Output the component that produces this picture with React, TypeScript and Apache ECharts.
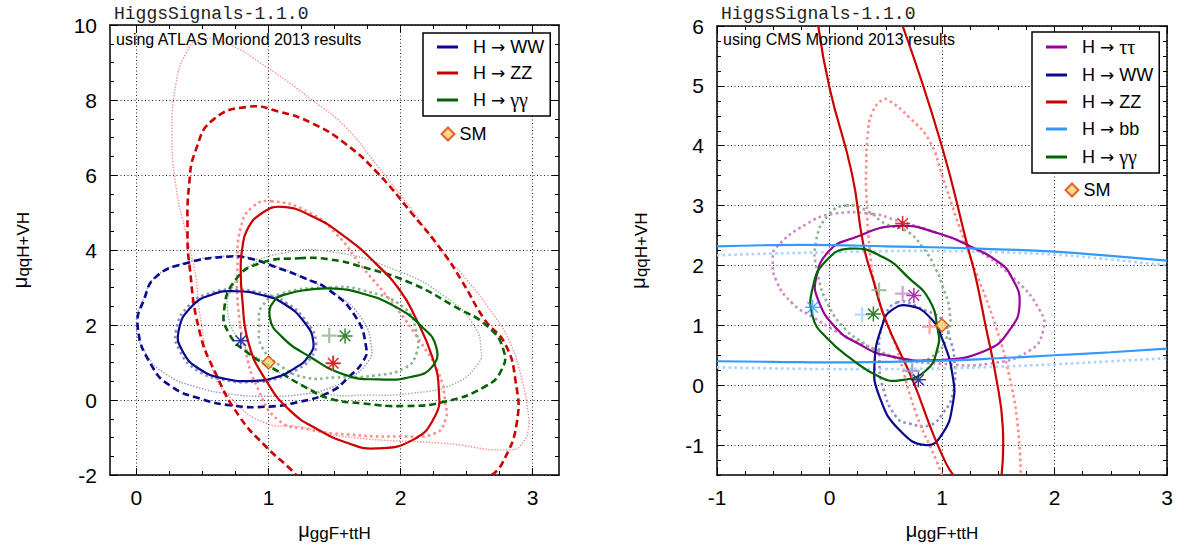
import React, { useEffect, useRef } from 'react';
import * as echarts from 'echarts';

type Pt = [number, number];

const FONT = "'Liberation Sans', Arial, Helvetica, sans-serif";
const MONO = "'Liberation Mono', 'Courier New', monospace";

// ---------------- axes / ticks ----------------
const atlasXRange: Pt = [-0.2, 3.2];
const atlasYRange: Pt = [-2, 10];
const atlasXTicks = [0, 1, 2, 3];
const atlasYTicks = [-2, 0, 2, 4, 6, 8, 10];

const cmsXRange: Pt = [-1, 3];
const cmsYRange: Pt = [-1.5, 6];
const cmsXTicks = [-1, 0, 1, 2, 3];
const cmsYTicks = [-1, 0, 1, 2, 3, 4, 5, 6];

const legendAtlas = ['H → WW', 'H → ZZ', 'H → γγ'];
const legendCms = ['H → ττ', 'H → WW', 'H → ZZ', 'H → bb', 'H → γγ'];

// ---------------- ATLAS contours (left) ----------------
const atlasWW1: Pt[] = [[0.75,2.9],[0.95,2.8],[1.12,2.56],[1.27,2.08],[1.34,1.55],[1.3,1.15],[1.2,0.85],[1.05,0.6],[0.88,0.51],[0.68,0.56],[0.48,0.82],[0.35,1.3],[0.32,1.85],[0.42,2.5],[0.58,2.82],[0.75,2.9]];
const atlasWW1Exp: Pt[] = [[0.75,2.94],[0.96,2.84],[1.14,2.58],[1.29,2.08],[1.36,1.55],[1.32,1.12],[1.22,0.82],[1.06,0.57],[0.88,0.48],[0.67,0.53],[0.46,0.79],[0.33,1.3],[0.30,1.85],[0.40,2.53],[0.57,2.86],[0.75,2.94]];
const atlasWW2: Pt[] = [[0.68,3.82],[0.85,3.78],[1.05,3.55],[1.28,3.24],[1.46,2.93],[1.66,2.22],[1.74,1.4],[1.72,1.05],[1.61,0.62],[1.47,0.22],[1.22,-0.06],[0.98,-0.18],[0.73,-0.15],[0.48,0.04],[0.27,0.35],[0.12,0.89],[0.01,1.95],[0.06,2.7],[0.15,3.29],[0.37,3.64],[0.68,3.82]];
const atlasWW2Exp: Pt[] = [[0.68,3.84],[0.85,3.8],[1.05,3.58],[1.3,3.2],[1.5,2.85],[1.7,2.2],[1.78,1.4],[1.75,1.0],[1.62,0.6],[1.45,0.3],[1.25,0.15],[1.0,0.1],[0.73,0.15],[0.45,0.35],[0.22,0.7],[0.08,1.2],[0.0,1.95],[0.06,2.75],[0.15,3.3],[0.37,3.66],[0.68,3.84]];

const atlasZZ1: Pt[] = [[1.1,5.15],[1.33,4.9],[1.58,4.35],[1.81,3.65],[2.0,2.9],[2.11,2.22],[2.24,1.15],[2.29,0.27],[2.26,-0.44],[2.09,-1.07],[1.81,-1.29],[1.61,-1.16],[1.38,-0.8],[1.16,-0.27],[0.98,0.53],[0.85,1.51],[0.8,2.75],[0.79,3.5],[0.8,4.0],[0.84,4.55],[0.95,4.98],[1.1,5.15]];
const atlasZZ1Exp: Pt[] = [[1.02,5.3],[1.3,5.02],[1.51,4.44],[1.71,3.55],[1.96,2.49],[2.14,1.6],[2.29,0.71],[2.34,-0.09],[2.34,-0.53],[2.26,-0.89],[2.0,-0.97],[1.6,-0.92],[1.3,-0.78],[1.08,-0.55],[0.92,0.3],[0.82,1.4],[0.77,2.5],[0.765,3.5],[0.79,4.6],[0.88,5.15],[1.02,5.3]];
const atlasZZ2: Pt[] = [[2.69,-2.0],[2.77,-1.69],[2.88,-0.62],[2.87,0.53],[2.79,1.51],[2.64,2.13],[2.46,3.2],[2.31,4.0],[2.085,4.98],[1.83,6.04],[1.58,6.84],[1.33,7.38],[1.08,7.69],[0.85,7.82],[0.58,7.47],[0.45,6.67],[0.4,5.78],[0.387,4.44],[0.4,3.64],[0.475,1.87],[0.6,0.71],[0.78,-0.44],[0.98,-1.24],[1.16,-1.82],[1.21,-2.0]];
const atlasZZ2Exp: Pt[] = [[0.68,9.51],[0.98,8.89],[1.33,8.0],[1.58,7.29],[1.83,6.22],[2.085,5.07],[2.34,3.82],[2.46,3.38],[2.66,2.49],[2.82,1.6],[2.92,0.53],[2.97,-0.44],[2.97,-0.71],[2.94,-1.07],[2.84,-1.33],[2.34,-1.16],[1.58,-0.98],[1.23,-0.71],[0.98,-0.62],[0.73,0.0],[0.575,0.8],[0.475,2.4],[0.45,3.29],[0.375,4.44],[0.3,5.69],[0.27,7.11],[0.3,8.44],[0.375,9.24],[0.475,9.6],[0.68,9.51]];

const atlasGG1: Pt[] = [[1.5,2.97],[1.71,2.84],[1.96,2.49],[2.16,1.96],[2.27,1.42],[2.24,0.89],[2.085,0.62],[1.83,0.55],[1.58,0.67],[1.31,1.16],[1.1,1.69],[1.01,2.2],[1.05,2.67],[1.155,2.84],[1.28,2.93],[1.5,2.97]];
const atlasGG1Exp: Pt[] = [[1.46,3.0],[1.71,2.93],[2.03,2.45],[2.12,1.8],[2.12,1.24],[2.03,0.85],[1.8,0.65],[1.5,0.6],[1.28,0.6],[1.1,0.89],[0.95,1.42],[0.93,2.0],[0.95,2.49],[1.1,2.84],[1.46,3.0]];
const atlasGG2: Pt[] = [[1.23,3.78],[1.46,3.75],[1.71,3.55],[2.085,3.11],[2.41,2.49],[2.66,1.96],[2.78,1.33],[2.765,0.8],[2.64,0.36],[2.34,-0.04],[2.035,-0.16],[1.71,-0.09],[1.46,0.04],[1.3,0.3],[1.1,0.71],[0.85,1.24],[0.7,1.78],[0.664,2.4],[0.75,3.2],[0.93,3.64],[1.23,3.78]];
const atlasGG2Exp: Pt[] = [[1.1,3.91],[1.46,3.96],[1.96,3.47],[2.34,2.75],[2.56,1.96],[2.61,1.33],[2.59,0.98],[2.41,0.44],[2.085,0.18],[1.71,0.13],[1.46,0.15],[1.28,0.36],[0.98,0.98],[0.78,1.6],[0.69,2.4],[0.73,3.02],[0.85,3.55],[1.1,3.91]];

const atlasBestWW: Pt = [0.79, 1.58];
const atlasBestZZ: Pt = [1.49, 0.98];
const atlasBestGG: Pt = [1.58, 1.71];
const atlasExpZZ: Pt = [1.49, 0.98];
const atlasExpGG: Pt = [1.46, 1.72];
const smPoint: Pt = [1, 1];

// ---------------- CMS contours (right) ----------------
const cmsTT1: Pt[] = [[0.6,2.66],[0.98,2.53],[1.27,2.3],[1.5,2.06],[1.62,1.8],[1.69,1.36],[1.6,0.92],[1.39,0.58],[0.95,0.42],[0.5,0.5],[0.25,0.7],[0.06,0.95],[-0.1,1.42],[-0.118,1.8],[0.0,2.25],[0.2,2.45],[0.6,2.66]];
const cmsTT1Exp: Pt[] = [[0.385,2.86],[0.6,2.75],[0.978,2.53],[1.27,2.3],[1.63,1.8],[1.87,1.25],[1.9,0.92],[1.78,0.58],[1.42,0.36],[0.978,0.36],[0.652,0.44],[0.356,0.64],[0.06,0.9],[-0.148,1.14],[-0.326,1.36],[-0.474,1.75],[-0.504,2.1],[-0.474,2.3],[-0.207,2.69],[0.03,2.86],[0.385,2.86]];
const cmsWW1: Pt[] = [[0.7,1.33],[0.889,1.14],[1.007,0.75],[1.096,0.14],[1.096,-0.31],[1.007,-0.8],[0.86,-1.0],[0.622,-0.75],[0.444,-0.19],[0.4,0.36],[0.474,1.03],[0.55,1.25],[0.7,1.33]];
const cmsWW1Exp: Pt[] = [[0.6,1.38],[0.85,1.25],[1.007,1.08],[1.067,0.8],[1.11,0.42],[1.096,-0.14],[1.007,-0.47],[0.889,-0.67],[0.711,-0.64],[0.593,-0.53],[0.474,-0.03],[0.444,0.42],[0.47,1.0],[0.6,1.38]];
const cmsZZ1Left: Pt[] = [[-0.1,6.0],[0.0,4.97],[0.2,3.53],[0.3,2.36],[0.39,1.75],[0.5,1.08],[0.74,0.08],[0.918,-0.8],[1.037,-1.31],[1.1,-1.5]];
const cmsZZ1Right: Pt[] = [[0.65,6.0],[0.993,4.03],[1.23,2.3],[1.3,1.8],[1.39,0.97],[1.48,0.14],[1.54,-0.69],[1.53,-1.5]];
const cmsZZ1Exp: Pt[] = [[1.0,-1.5],[0.948,-1.25],[0.77,-0.47],[0.593,0.64],[0.533,0.92],[0.415,1.58],[0.356,2.3],[0.326,3.25],[0.326,3.64],[0.34,4.19],[0.38,4.55],[0.474,4.77],[0.533,4.75],[0.711,4.47],[0.889,4.08],[1.007,3.47],[1.126,2.8],[1.26,2.1],[1.48,0.97],[1.6,0.14],[1.674,-0.69],[1.70,-1.5]];
const cmsBB1Top: Pt[] = [[-1,2.32],[-0.5,2.34],[0,2.34],[0.5,2.32],[1,2.3],[1.5,2.27],[2,2.23],[2.5,2.16],[3,2.08]];
const cmsBB1Bottom: Pt[] = [[-1,0.4],[-0.5,0.39],[0,0.38],[0.5,0.39],[1,0.41],[1.5,0.45],[2,0.5],[2.5,0.55],[3,0.61]];
const cmsBB1ExpTop: Pt[] = [[-1,2.17],[-0.5,2.2],[0,2.22],[0.5,2.24],[1,2.24],[1.5,2.22],[2,2.18],[2.5,2.1],[3,2.0]];
const cmsBB1ExpBottom: Pt[] = [[-1,0.3],[-0.5,0.28],[0,0.27],[0.5,0.27],[1,0.28],[1.5,0.31],[2,0.35],[2.5,0.4],[3,0.45]];
const cmsGG1: Pt[] = [[0.178,2.28],[0.474,2.14],[0.711,1.78],[0.889,1.42],[0.963,0.92],[0.963,0.64],[0.86,0.25],[0.622,0.08],[0.444,0.14],[0.207,0.42],[-0.03,0.8],[-0.148,1.14],[-0.148,1.64],[-0.03,2.08],[0.178,2.28]];
const cmsGG1Exp: Pt[] = [[0.148,3.0],[0.326,2.92],[0.504,2.69],[0.682,2.58],[0.83,2.3],[0.95,1.92],[1.007,1.64],[1.067,1.25],[1.052,0.86],[0.948,0.53],[0.75,0.4],[0.444,0.56],[0.267,0.75],[0.148,0.92],[0.0,1.3],[-0.104,1.86],[-0.118,2.42],[0.0,2.86],[0.148,3.0]];

const cmsBestTT: Pt = [0.75, 1.5];
const cmsBestWW: Pt = [0.79, 0.09];
const cmsBestZZ: Pt = [0.65, 2.7];
const cmsBestBB: Pt = [-0.15, 1.3];
const cmsBestGG: Pt = [0.39, 1.19];
const cmsExpTT: Pt = [0.65, 1.53];
const cmsExpWW: Pt = [0.735, 0.24];
const cmsExpZZ: Pt = [0.89, 0.98];
const cmsExpBB: Pt = [0.29, 1.18];
const cmsExpGG: Pt = [0.44, 1.59];

// ---------------- styling ----------------
const COL = { WW: '#0a0a8c', ZZ: '#cc0000', GG: '#006400', TT: '#990099', BB: '#3399ff' };
const LIGHT = { WW: '#9090cc', ZZ: '#ff8c8c', GG: '#8fb38f', TT: '#c98ac9', BB: '#a8d2ff' };

const STAR = 'path://M9,0h2v20h-2z M0,9h20v2h-20z M2.2,3.6l1.4,-1.4l14.2,14.2l-1.4,1.4z M16.4,2.2l1.4,1.4l-14.2,14.2l-1.4,-1.4z';
const PLUS = 'path://M8.5,0h3v20h-3z M0,8.5h20v3h-20z';

function minorTicks(range: Pt, step: number, majors: number[]): number[] {
  const out: number[] = [];
  const start = Math.ceil(range[0] / step - 1e-9);
  const end = Math.floor(range[1] / step + 1e-9);
  for (let i = start; i <= end; i++) {
    const v = Math.round(i * step * 1000) / 1000;
    if (!majors.some((m) => Math.abs(m - v) < 1e-6)) out.push(v);
  }
  return out;
}

const rich = {
  mu: { fontSize: 20, fontFamily: FONT, color: '#000', verticalAlign: 'top', lineHeight: 22 },
  sub: { fontSize: 17, fontFamily: FONT, color: '#000', verticalAlign: 'bottom', lineHeight: 22, padding: [8, 0, 0, 0] },
};

function axesFor(grid: number, xr: Pt, yr: Pt, xt: number[], yt: number[], xStep: number, yStep: number, yNameGap: number) {
  const line = { show: true, onZero: false, lineStyle: { color: '#000', width: 1.5 } };
  const split = { show: true, lineStyle: { color: '#222', width: 1, type: [1, 2.5] } };
  const xMin = minorTicks(xr, xStep, xt);
  const yMin = minorTicks(yr, yStep, yt);
  const base = (min: number, max: number) => ({ type: 'value', gridIndex: grid, min, max });
  const tick = (vals: number[], len: number) => ({ show: true, inside: true, length: len, customValues: vals, lineStyle: { color: '#000', width: 1 } });
  const label = { show: true, fontSize: 21, fontFamily: FONT, color: '#000' };
  const xs = [
    {
      ...base(xr[0], xr[1]), position: 'bottom', axisLine: line, axisTick: tick(xt, 7),
      axisLabel: { ...label, customValues: xt, margin: 12 },
      splitLine: split,
      name: '{mu|μ}{sub|ggF+ttH}', nameLocation: 'middle', nameGap: 45, nameTextStyle: { rich },
    },
    { ...base(xr[0], xr[1]), position: 'bottom', axisLine: { show: false, onZero: false }, axisTick: tick(xMin, 4), axisLabel: { show: false }, splitLine: { show: false } },
    { ...base(xr[0], xr[1]), position: 'top', axisLine: line, axisTick: tick(xt, 7), axisLabel: { show: false }, splitLine: { show: false } },
    { ...base(xr[0], xr[1]), position: 'top', axisLine: { show: false, onZero: false }, axisTick: tick(xMin, 4), axisLabel: { show: false }, splitLine: { show: false } },
  ];
  const ys = [
    {
      ...base(yr[0], yr[1]), position: 'left', axisLine: line, axisTick: tick(yt, 7),
      axisLabel: { ...label, customValues: yt, margin: 13 },
      splitLine: split,
      name: '{mu|μ}{sub|qqH+VH}', nameLocation: 'middle', nameGap: yNameGap, nameRotate: 90, nameTextStyle: { rich },
    },
    { ...base(yr[0], yr[1]), position: 'left', axisLine: { show: false, onZero: false }, axisTick: tick(yMin, 4), axisLabel: { show: false }, splitLine: { show: false } },
    { ...base(yr[0], yr[1]), position: 'right', axisLine: line, axisTick: tick(yt, 7), axisLabel: { show: false }, splitLine: { show: false } },
    { ...base(yr[0], yr[1]), position: 'right', axisLine: { show: false, onZero: false }, axisTick: tick(yMin, 4), axisLabel: { show: false }, splitLine: { show: false } },
  ];
  return { xs, ys };
}

type Kind = 'solid' | 'dashed' | 'dot1' | 'dot2';
const KIND: Record<Kind, { width: number; dash: number[] | null }> = {
  solid: { width: 2.2, dash: null },
  dashed: { width: 2.6, dash: [7, 4] },
  dot1: { width: 2.6, dash: [2.6, 3.2] },
  dot2: { width: 1.4, dash: [1.4, 1.6] },
};

// a contour drawn as one smooth curve through the read points, mapped with the axes' own scales
function contour(name: string, pts: Pt[], axis: number, color: string, kind: Kind, z = 2) {
  const k = KIND[kind];
  const first = pts[0];
  const last = pts[pts.length - 1];
  const closed = pts.length > 3 && first[0] === last[0] && first[1] === last[1];
  const ring = closed ? pts.slice(0, -1) : pts;
  return {
    type: 'custom', name, coordinateSystem: 'cartesian2d', xAxisIndex: axis, yAxisIndex: axis,
    data: ring, encode: { x: 0, y: 1 }, clip: true, z, silent: true,
    itemStyle: { color },
    renderItem: (params: any, api: any) => {
      if (params.dataIndex !== 0) return null;
      const points = ring.map((p) => api.coord(p));
      return {
        type: closed ? 'polygon' : 'polyline',
        shape: { points, smooth: 0.5 },
        style: { fill: 'none', stroke: color, lineWidth: k.width, lineDash: k.dash || undefined, lineCap: 'butt' },
        silent: true,
      };
    },
  };
}

function markers(name: string, pts: { p: Pt; c: string }[], axis: number, symbol: string, size: number, z = 5) {
  return {
    type: 'scatter', name, xAxisIndex: axis, yAxisIndex: axis, symbol, symbolSize: size, z, silent: true,
    data: pts.map((d) => ({ value: d.p, itemStyle: { color: d.c } })),
  };
}

function smSeries(axis: number) {
  return {
    type: 'scatter', name: 'SM', xAxisIndex: axis, yAxisIndex: axis, symbol: 'diamond', symbolSize: 13, z: 6, silent: true,
    itemStyle: { color: '#f6d36e', borderColor: '#e03a00', borderWidth: 1.5 },
    data: [smPoint],
  };
}

function legendFormatter(name: string): string {
  const [h, rest] = name.split(' → ');
  const greek = /[γτ]/.test(rest);
  return `${h} {arr|→} ${greek ? `{g|${rest}}` : rest}`;
}

function buildOption() {
  const L = axesFor(0, atlasXRange, atlasYRange, atlasXTicks, atlasYTicks, 0.25, 0.5, 78);
  const R = axesFor(1, cmsXRange, cmsYRange, cmsXTicks, cmsYTicks, 0.25, 0.25, 67);
  const a = 0; // left axis index
  const b = 4; // right axis index
  const series: any[] = [
    // ATLAS expected (dotted)
    contour('atlas-zz2-exp', atlasZZ2Exp, a, LIGHT.ZZ, 'dot2'),
    contour('atlas-ww2-exp', atlasWW2Exp, a, LIGHT.WW, 'dot2'),
    contour('atlas-gg2-exp', atlasGG2Exp, a, LIGHT.GG, 'dot2'),
    contour('atlas-zz1-exp', atlasZZ1Exp, a, LIGHT.ZZ, 'dot1'),
    contour('atlas-ww1-exp', atlasWW1Exp, a, LIGHT.WW, 'dot1'),
    contour('atlas-gg1-exp', atlasGG1Exp, a, LIGHT.GG, 'dot1'),
    // ATLAS 2 sigma (dashed)
    contour('atlas-ww2', atlasWW2, a, COL.WW, 'dashed', 3),
    contour('atlas-zz2', atlasZZ2, a, COL.ZZ, 'dashed', 3),
    contour('atlas-gg2', atlasGG2, a, COL.GG, 'dashed', 3),
    // ATLAS 1 sigma (solid)
    contour('H → WW', atlasWW1, a, COL.WW, 'solid', 4),
    contour('H → ZZ', atlasZZ1, a, COL.ZZ, 'solid', 4),
    contour('H → γγ', atlasGG1, a, COL.GG, 'solid', 4),
    markers('atlas-exp', [{ p: atlasExpZZ, c: LIGHT.ZZ }, { p: atlasExpGG, c: LIGHT.GG }], a, PLUS, 15),
    markers('atlas-best', [{ p: atlasBestWW, c: COL.WW }, { p: atlasBestZZ, c: COL.ZZ }, { p: atlasBestGG, c: COL.GG }], a, STAR, 15),
    smSeries(a),

    // CMS expected (dotted)
    contour('cms-tt-exp', cmsTT1Exp, b, LIGHT.TT, 'dot1'),
    contour('cms-ww-exp', cmsWW1Exp, b, LIGHT.WW, 'dot1'),
    contour('cms-zz-exp', cmsZZ1Exp, b, LIGHT.ZZ, 'dot1'),
    contour('cms-bb-exp-top', cmsBB1ExpTop, b, LIGHT.BB, 'dot1'),
    contour('cms-bb-exp-bottom', cmsBB1ExpBottom, b, LIGHT.BB, 'dot1'),
    contour('cms-gg-exp', cmsGG1Exp, b, LIGHT.GG, 'dot1'),
    // CMS observed (solid)
    contour('H → ττ', cmsTT1, b, COL.TT, 'solid', 4),
    contour('H → WW', cmsWW1, b, COL.WW, 'solid', 4),
    contour('H → ZZ', cmsZZ1Left, b, COL.ZZ, 'solid', 4),
    contour('cms-zz-right', cmsZZ1Right, b, COL.ZZ, 'solid', 4),
    contour('H → bb', cmsBB1Top, b, COL.BB, 'solid', 4),
    contour('cms-bb-bottom', cmsBB1Bottom, b, COL.BB, 'solid', 4),
    contour('H → γγ', cmsGG1, b, COL.GG, 'solid', 4),
    markers('cms-exp', [
      { p: cmsExpTT, c: LIGHT.TT }, { p: cmsExpWW, c: LIGHT.WW }, { p: cmsExpZZ, c: LIGHT.ZZ },
      { p: cmsExpBB, c: LIGHT.BB }, { p: cmsExpGG, c: LIGHT.GG },
    ], b, PLUS, 15),
    markers('cms-best', [
      { p: cmsBestTT, c: COL.TT }, { p: cmsBestWW, c: COL.WW }, { p: cmsBestZZ, c: COL.ZZ },
      { p: cmsBestBB, c: COL.BB }, { p: cmsBestGG, c: COL.GG },
    ], b, STAR, 15),
    smSeries(b),
  ];

  const legendText = {
    fontSize: 18, fontFamily: FONT, color: '#000', padding: [0, 0, 0, 10],
    rich: {
      arr: { fontFamily: "'DejaVu Sans', sans-serif", fontSize: 17, color: '#000' },
      g: { fontFamily: "'Liberation Serif', 'DejaVu Serif', serif", fontSize: 20, color: '#000' },
    },
  };
  const boxLegend = (left: number, top: number, data: string[], gap: number) => ({
    left, top, orient: 'vertical', data, icon: 'rect', itemWidth: 21, itemHeight: 3,
    itemGap: gap, padding: [5, 6, 6, 14], borderColor: '#000', borderWidth: 1.5, borderRadius: 0,
    backgroundColor: '#fff', selectedMode: false, textStyle: legendText, z: 10,
    formatter: legendFormatter,
  });
  const smLegend = (left: number, top: number) => ({
    left, top, data: ['SM'], icon: 'diamond', itemWidth: 13, itemHeight: 13, padding: 0,
    selectedMode: false, textStyle: { fontSize: 18, fontFamily: FONT, color: '#000' }, z: 10,
  });

  const titleStyle = { fontFamily: MONO, fontSize: 18, fontWeight: 'normal', color: '#222' };
  const subStyle = { fontFamily: FONT, fontSize: 16, fontWeight: 'normal', color: '#000' };

  return {
    animation: false,
    backgroundColor: '#fff',
    title: [
      { text: 'HiggsSignals-1.1.0', left: 114, top: 5, padding: 0, textStyle: titleStyle },
      { text: 'using ATLAS Moriond 2013 results', left: 116, top: 31, padding: 0, textStyle: subStyle, z: 8 },
      { text: 'HiggsSignals-1.1.0', left: 721, top: 5, padding: 0, textStyle: titleStyle },
      { text: 'using CMS Moriond 2013 results', left: 723, top: 31, padding: 0, textStyle: subStyle, z: 8 },
    ],
    legend: [
      boxLegend(423, 33, legendAtlas, 8),
      smLegend(440.5, 125),
      boxLegend(1032, 32, legendCms, 9),
      smLegend(1064.5, 181),
    ],
    grid: [
      { left: 110, top: 25, width: 449, height: 450, containLabel: false },
      { left: 717, top: 26, width: 450, height: 449, containLabel: false },
    ],
    xAxis: [...L.xs, ...R.xs],
    yAxis: [...L.ys, ...R.ys],
    series,
  };
}

export default function App() {
  const ref = useRef<HTMLDivElement>(null);
  useEffect(() => {
    if (!ref.current) return;
    const chart = echarts.init(ref.current, undefined, { renderer: 'svg' });
    chart.setOption(buildOption() as any);
    return () => chart.dispose();
  }, []);
  return (
    <div
      ref={ref}
      style={{ position: 'fixed', left: 0, top: 0, width: 1178, height: 548, background: '#fff' }}
    />
  );
}
